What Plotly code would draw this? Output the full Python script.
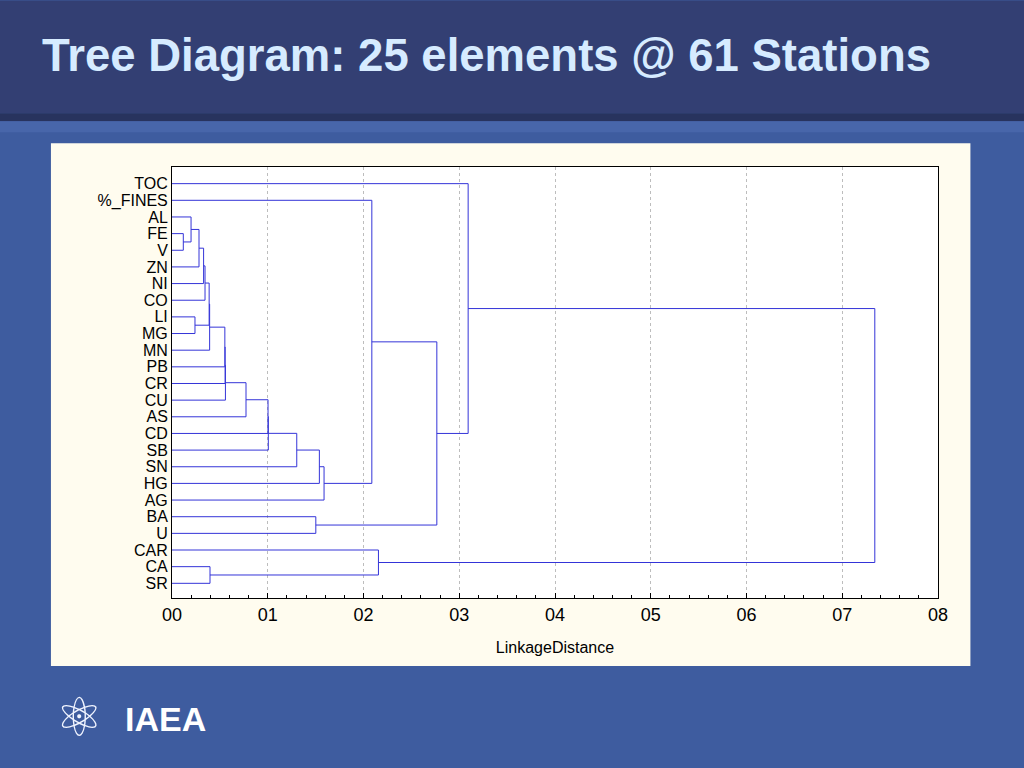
import plotly.graph_objects as go

# ---------------- data ----------------
labels = ["TOC", "%_FINES", "AL", "FE", "V", "ZN", "NI", "CO", "LI", "MG", "MN",
          "PB", "CR", "CU", "AS", "CD", "SB", "SN", "HG", "AG", "BA", "U",
          "CAR", "CA", "SR"]

# merges (cluster id = 25 + merge index); leaves are 0..24 in display order
merge_left = [3, 2, 26, 27, 28, 8, 29, 31, 32, 33, 34, 35, 36, 37, 38, 39, 40,
              1, 20, 42, 0, 23, 22, 45]
merge_right = [4, 25, 5, 6, 7, 9, 30, 10, 11, 12, 13, 14, 15, 16, 17, 18, 19,
               41, 21, 43, 44, 24, 46, 47]
merge_height = [0.0118, 0.0199, 0.0282, 0.0330, 0.0345, 0.0240, 0.0388, 0.0393,
                0.0552, 0.0555, 0.0558, 0.0773, 0.1003, 0.1006, 0.1303, 0.1539,
                0.1588, 0.2087, 0.1502, 0.2766, 0.3093, 0.0397, 0.2156, 0.7340]

x_tickvals = [0.0, 0.1, 0.2, 0.3, 0.4, 0.5, 0.6, 0.7, 0.8]
x_ticktext = ["00", "01", "02", "03", "04", "05", "06", "07", "08"]

title_text = "Tree Diagram: 25 elements @ 61 Stations"
x_title = "LinkageDistance"

# ---------------- build dendrogram segments ----------------
n = len(labels)
pos = {i: float(i) for i in range(n)}
hgt = {i: 0.0 for i in range(n)}
xs, ys = [], []
for k, (a, b, h) in enumerate(zip(merge_left, merge_right, merge_height)):
    xs += [hgt[a], h, h, hgt[b], None]
    ys += [pos[a], pos[a], pos[b], pos[b], None]
    pos[n + k] = (pos[a] + pos[b]) / 2.0
    hgt[n + k] = h

# ---------------- layout geometry (pixels) ----------------
W, H = 1024, 768
L, R, T, B = 172, 937.6, 166.7, 598.0


def px(x):
    return (x - L) / (R - L)


def py(y):
    return (B - y) / (B - T)


fig = go.Figure()
fig.add_trace(go.Scatter(x=xs, y=ys, mode="lines",
                         line=dict(color="#3434D8", width=1),
                         hoverinfo="skip", showlegend=False))

shapes = [
    # header band
    dict(type="rect", xref="paper", yref="paper", x0=px(0), x1=px(W),
         y0=py(0), y1=py(113), fillcolor="#333F73", line_width=0, layer="below"),
    dict(type="rect", xref="paper", yref="paper", x0=px(0), x1=px(W),
         y0=py(113), y1=py(121), fillcolor="#28335E", line_width=0, layer="below"),
    dict(type="rect", xref="paper", yref="paper", x0=px(0), x1=px(W),
         y0=py(121), y1=py(132), fillcolor="#4866AA", line_width=0, layer="below"),
    # cream panel
    dict(type="rect", xref="paper", yref="paper", x0=px(51), x1=px(970),
         y0=py(143), y1=py(666), fillcolor="#FFFCEF", line_width=0, layer="below"),
    # white plot area
    dict(type="rect", xref="paper", yref="paper", x0=0, x1=1, y0=0, y1=1,
         fillcolor="#FFFFFF", line_width=0, layer="below"),
]

annotations = [
    dict(text="<b>" + title_text + "</b>", xref="paper", yref="paper",
         x=px(40), y=py(55), xanchor="left", yanchor="middle", showarrow=False,
         font=dict(family="Liberation Sans, Arial", size=45.5, color="#D6EBFF")),
    dict(text="<b>IAEA</b>", xref="paper", yref="paper",
         x=px(123), y=py(719), xanchor="left", yanchor="middle", showarrow=False,
         font=dict(family="Liberation Sans, Arial", size=34, color="#FFFFFF")),
    dict(text="\u269b", xref="paper", yref="paper",
         x=px(79), y=py(718), xanchor="center", yanchor="middle", showarrow=False,
         font=dict(family="DejaVu Sans", size=54, color="#F0F4FF")),
]

fig.update_layout(
    width=W, height=H,
    margin=dict(l=L, r=W - R, t=T, b=H - B, pad=0),
    paper_bgcolor="#3E5C9F",
    plot_bgcolor="rgba(0,0,0,0)",
    shapes=shapes,
    annotations=annotations,
    showlegend=False,
)

fig.update_xaxes(
    range=[0, 0.8], tickvals=x_tickvals, ticktext=x_ticktext,
    showgrid=True, gridcolor="#BDBDBD", griddash="dot", gridwidth=1,
    showline=True, linecolor="#000000", linewidth=1, mirror=True,
    ticks="inside", ticklen=5, tickcolor="#000000",
    minor=dict(dtick=0.02, ticks="inside", ticklen=3, tickcolor="#000000", showgrid=False),
    tickfont=dict(family="Liberation Sans, Arial", size=18, color="#000000"),
    title=dict(text=x_title, standoff=18,
               font=dict(family="Liberation Sans, Arial", size=16, color="#000000")),
    zeroline=False,
)

fig.update_yaxes(
    range=[(B - 183.3) / 16.667, -1.0],
    tickvals=list(range(n)), ticktext=labels,
    showgrid=False, zeroline=False,
    showline=True, linecolor="#000000", linewidth=1, mirror=True,
    ticks="", ticklabelstandoff=0,
    tickfont=dict(family="Liberation Sans, Arial", size=16, color="#000000"),
)

fig.write_html("out.html", config={"displayModeBar": False},
               post_script="document.body.style.margin='0';document.body.style.overflow='hidden';")
